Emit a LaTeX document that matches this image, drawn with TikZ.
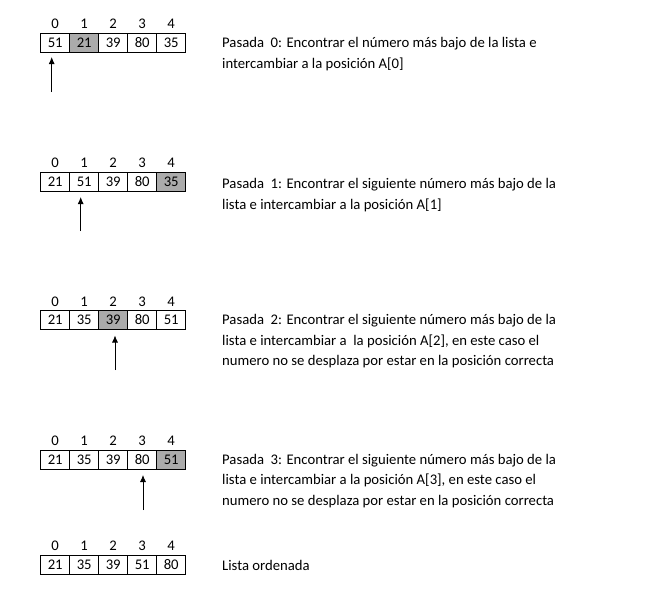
\documentclass[tikz,border=0pt]{standalone}
\usepackage{fontspec}
\setmainfont{Carlito}
\usetikzlibrary{arrows.meta,positioning}

\begin{document}
\begin{tikzpicture}[
        x=1pt, y=-1pt,
        font=\fontsize{14.7}{20.5}\selectfont,
        cell/.style={draw, line width=0.8pt, minimum width=29pt, minimum height=19pt,
                     inner sep=0pt, outer sep=0pt},
        pick/.style={cell, fill=black!33},
        idx/.style={inner sep=0pt},
        note/.style={anchor=base west, align=left, inner sep=0pt},
        arrow/.style={-{Latex[length=7pt,width=6pt]}, line width=0.8pt}
    ]
        \useasboundingbox (0,0) rectangle (647,614);

        % pasada 0
        \foreach \v/\s [count=\i from 0] in {51/cell,21/pick,39/cell,80/cell,35/cell}
            \node[\s] (a\i) at ({55.2+29*\i},42.5) {\v};
        % pasada 1
        \foreach \v/\s [count=\i from 0] in {21/cell,51/cell,39/cell,80/cell,35/pick}
            \node[\s] (b\i) at ({55.2+29*\i},181.5) {\v};
        % pasada 2
        \foreach \v/\s [count=\i from 0] in {21/cell,35/cell,39/pick,80/cell,51/cell}
            \node[\s] (c\i) at ({55.2+29*\i},320) {\v};
        % pasada 3
        \foreach \v/\s [count=\i from 0] in {21/cell,35/cell,39/cell,80/cell,51/pick}
            \node[\s] (d\i) at ({55.2+29*\i},459.5) {\v};
        % lista ordenada
        \foreach \v/\s [count=\i from 0] in {21/cell,35/cell,39/cell,51/cell,80/cell}
            \node[\s] (e\i) at ({55.2+29*\i},564.5) {\v};

        % indices
        \foreach \r in {a,b,c,d,e}
            \foreach \i in {0,...,4}
                \node[idx, above=4pt of \r\i] (\r i\i) {\i};

        % flechas
        \coordinate (ta) at (51.7,92);
        \coordinate (tb) at (80.7,231);
        \coordinate (tc) at (115,370);
        \coordinate (td) at (143,510);
        \draw[arrow] (ta) -- ([xshift=-3.5pt,yshift=-5pt]a0.south);
        \draw[arrow] (tb) -- ([xshift=-3.5pt,yshift=-6pt]b1.south);
        \draw[arrow] (tc) -- ([xshift=1.8pt,yshift=-6pt]c2.south);
        \draw[arrow] (td) -- ([xshift=0.8pt,yshift=-6pt]d3.south);

        % textos (base = linea final)
        \node[note] (na) at (222,68)
            {Pasada\ \ 0: Encontrar el número más bajo de la lista e\\
             intercambiar a la posición A[0]};
        \node[note] (nb) at (222,209)
            {Pasada\ \ 1: Encontrar el siguiente número más bajo de la\\
             lista e intercambiar a la posición A[1]};
        \node[note] (nc) at (222,365.5)
            {Pasada\ \ 2: Encontrar el siguiente número más bajo de la\\
             lista e intercambiar a\ \ la posición A[2], en este caso el\\
             numero no se desplaza por estar en la posición correcta};
        \node[note] (nd) at (222,505)
            {Pasada\ \ 3: Encontrar el siguiente número más bajo de la\\
             lista e intercambiar a la posición A[3], en este caso el\\
             numero no se desplaza por estar en la posición correcta};
        \node[note] (ne) at (222,570) {Lista ordenada};
    \end{tikzpicture}
\end{document}
